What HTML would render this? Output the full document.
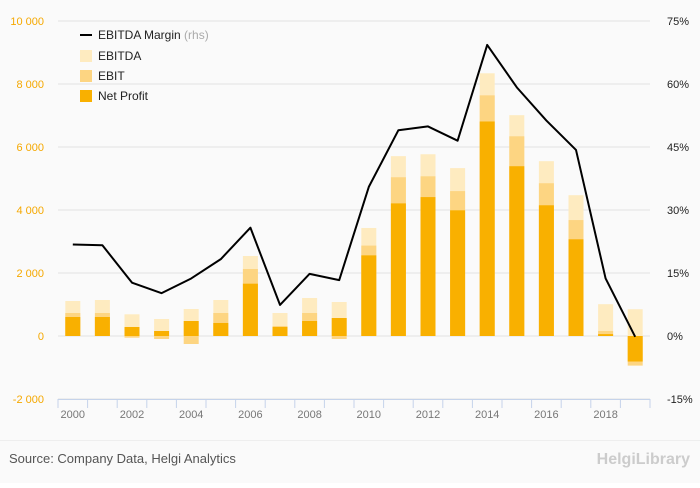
<!DOCTYPE html>
<html><head><meta charset="utf-8"><style>
body{margin:0;background:#fff;font-family:"Liberation Sans",sans-serif}
#wrap{width:700px;height:483px;position:relative;background:#fafafa}
</style></head><body>
<div id="wrap">
<svg id="chart" width="700" height="483"></svg>
</div>
<script>
const years=[2000,2001,2002,2003,2004,2005,2006,2007,2008,2009,2010,2011,2012,2013,2014,2015,2016,2017,2018,2019];
const ebitda=[1111,1143,689,540,857,1143,2540,730,1206,1079,3430,5710,5770,5330,8340,7010,5550,4470,1010,850];
const ebit=[730,730,-54,-95,-254,730,2127,317,730,-95,2870,5040,5070,4600,7640,6340,4850,3680,160,-940];
const netProfit=[603,603,286,159,476,413,1661,286,476,571,2560,4210,4410,3990,6810,5390,4150,3070,60,-810];
const margin=[21.8,21.6,12.7,10.2,13.7,18.3,25.8,7.4,14.8,13.3,35.5,49.0,49.9,46.5,69.3,59.2,51.3,44.3,13.7,-0.2];
const leftTicks=[-2000,0,2000,4000,6000,8000,10000];
const rightTicks=[-15,0,15,30,45,60,75];
const leftLabels=["-2 000","0","2 000","4 000","6 000","8 000","10 000"];

const svg=document.getElementById('chart');const NS='http://www.w3.org/2000/svg';
function mk(t,a,p){const e=document.createElementNS(NS,t);for(const k in a)e.setAttribute(k,a[k]);(p||svg).appendChild(e);return e;}
const x0=58,x1=650,band=(x1-x0)/years.length;
const xc=i=>x0+band*(i+0.5);
const yL=v=>336-v*0.0315;
const yR=v=>336-v*4.2;
const bw=15;
leftTicks.forEach((t,i)=>{
 const g=mk('line',{x1:x0,x2:x1,y1:yL(t),y2:yL(t),stroke:'#e3e3e3','stroke-width':1});
 
 const l=mk('text',{x:44,y:yL(t)+4,'text-anchor':'end','font-size':11,fill:'#f5a800'});l.textContent=leftLabels[i];
 
});
rightTicks.forEach(t=>{
 const l=mk('text',{x:667,y:yR(t)+4,'font-size':11,fill:'#222'});l.textContent=t+'%';
 
});
function bar(v,i,c,n){const y=Math.min(yL(v),yL(0)),h=Math.abs(yL(v)-yL(0));
 const r=mk('rect',{x:xc(i)-bw/2,y:y,width:bw,height:h,fill:c});
 }
years.forEach((yr,i)=>{bar(ebitda[i],i,'#feebc0','bar-ebitda');bar(ebit[i],i,'#fdd582','bar-ebit');bar(netProfit[i],i,'#f9b000','bar-net-profit');});
const ax=mk('line',{x1:x0,x2:x1,y1:399.5,y2:399.5,stroke:'#c5d3ea','stroke-width':1});

for(let i=0;i<=years.length;i++){const t=mk('line',{x1:x0+band*i,x2:x0+band*i,y1:399,y2:408,stroke:'#c5d3ea'});
 }
years.forEach((yr,i)=>{if(yr%2==0){const l=mk('text',{x:xc(i),y:418,'text-anchor':'middle','font-size':11,fill:'#777'});l.textContent=yr;
 }});
const pl=mk('polyline',{points:margin.map((m,i)=>xc(i)+','+yR(m)).join(' '),fill:'none',stroke:'#000','stroke-width':2,'stroke-linejoin':'round'});

// legend
const lg=mk('g',{});
const ln=mk('line',{x1:80,x2:92,y1:35,y2:35,stroke:'#000','stroke-width':2},lg);
const items=[['EBITDA Margin',null,35],['EBITDA','#feebc0',56],['EBIT','#fdd582',76],['Net Profit','#f9b000',96]];
items.forEach(([n,c,y])=>{if(c)mk('rect',{x:80,y:y-6,width:12,height:12,fill:c},lg);
 const t=mk('text',{x:98,y:y+4,'font-size':12,fill:'#222'},lg);t.textContent=n;
 if(!c){const s=mk('tspan',{fill:'#aaa'},t);s.textContent=' (rhs)';}
 });
const ft=mk('line',{x1:0,x2:700,y1:440.5,y2:440.5,stroke:'#eee'});
const src=mk('text',{x:9,y:463,'font-size':13,fill:'#555'});src.textContent='Source: Company Data, Helgi Analytics';

const br=mk('text',{x:690,y:464,'text-anchor':'end','font-size':16,fill:'#ccc','font-weight':'bold'});br.textContent='HelgiLibrary';

</script>
</body></html>
